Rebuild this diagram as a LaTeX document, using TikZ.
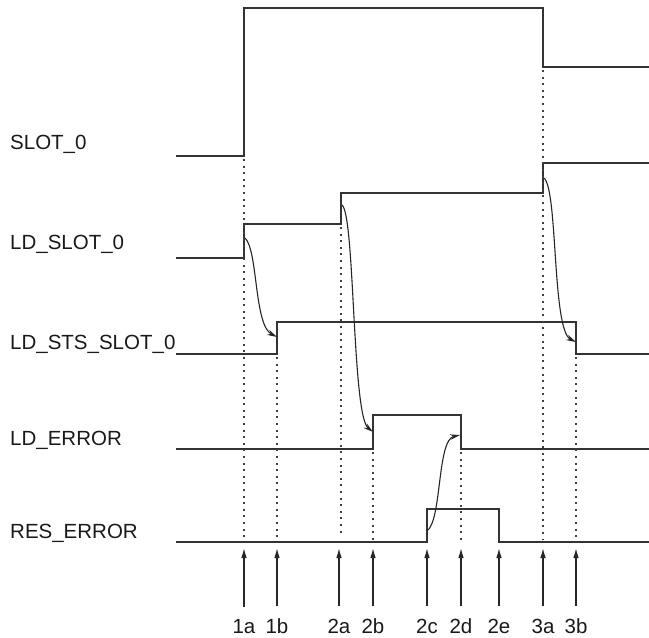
\documentclass[tikz,border=0pt]{standalone}
\usepackage{fontspec}
\setmainfont{Liberation Sans}
\usetikzlibrary{arrows.meta,positioning,calc}
\tikzset{
  tim/signal/.style={draw=black!80, line width=1.5pt},
  tim/guide/.style={draw=black!75, line width=1.2pt, dash pattern=on 2pt off 4.6pt},
  tim/cause/.style={draw=black!85, line width=1.1pt, -{Stealth[length=10pt,width=5.5pt]}},
  tim/marker/.style={draw=black!85, line width=1.1pt, shorten <=12pt, -{Latex[length=10pt,width=5.5pt]}},
  tim/name/.style={font=\fontsize{20.5}{24}\selectfont, text=black!90, anchor=base west, inner sep=0pt},
  tim/tick/.style={font=\fontsize{20.5}{24}\selectfont, text=black!90, anchor=base, inner sep=0pt}
}

\begin{document}
\begin{tikzpicture}[x=1pt, y=-1pt]
  \useasboundingbox (0,0) rectangle (649,638);

  % signal names
  \node[tim/name] (slotName) at (10,149) {SLOT\_0};
  \node[tim/name] (ldSlotName) at (10,249) {LD\_SLOT\_0};
  \node[tim/name] (ldStsName) at (10,349) {LD\_STS\_SLOT\_0};
  \node[tim/name] (ldErrName) at (10,445) {LD\_ERROR};
  \node[tim/name] (resErrName) at (10,538) {RES\_ERROR};

  % waveforms
  \draw[tim/signal] (176,156) -| (244,8) -| (543,67) -- (649,67);
  \draw[tim/signal] (176,258) -| (244,224) -| (341,193) -| (543,163) -- (649,163);
  \draw[tim/signal] (176,354) -| (277,322) -| (576,354) -- (649,354);
  \draw[tim/signal] (176,449) -| (373,415) -| (461,449) -- (649,449);
  \draw[tim/signal] (176,542) -| (427,509) -| (499,542) -- (649,542);

  % dotted guides
  \draw[tim/guide] (244,159) -- (244,540);
  \draw[tim/guide] (277,357) -- (277,540);
  \draw[tim/guide] (341,227) -- (341,536);
  \draw[tim/guide] (373,452) -- (373,540);
  \draw[tim/guide] (461,452) -- (461,540);
  \draw[tim/guide] (543,70) -- (543,540);
  \draw[tim/guide] (576,357) -- (576,540);

  % cause and effect
  \coordinate (ld1a) at (245,238);
  \coordinate (sts1b) at (277,337);
  \coordinate (ld2a) at (342,205);
  \coordinate (err2b) at (373,432);
  \coordinate (ld3a) at (544,178);
  \coordinate (sts3b) at (576,342);
  \coordinate (res2c) at (427,531);
  \coordinate (err2d) at (460,435);
  \draw[tim/cause] (ld1a) .. controls (258,250) and (254,325) .. (sts1b);
  \draw[tim/cause] (ld2a) .. controls (355,215) and (352,415) .. (err2b);
  \draw[tim/cause] (ld3a) .. controls (558,190) and (552,330) .. (sts3b);
  \draw[tim/cause] (res2c) .. controls (442,520) and (437,440) .. (err2d);

  % time markers
  \coordinate (t1a) at (244,548);
  \coordinate (t1b) at (277,548);
  \coordinate (t2a) at (339,548);
  \coordinate (t2b) at (373,548);
  \coordinate (t2c) at (427,548);
  \coordinate (t2d) at (461,548);
  \coordinate (t2e) at (499,548);
  \coordinate (t3a) at (543,548);
  \coordinate (t3b) at (576,548);
  \node[tim/tick] (l1a) at (244,633) {1a};
  \node[tim/tick] (l1b) at (277,633) {1b};
  \node[tim/tick] (l2a) at (339,633) {2a};
  \node[tim/tick] (l2b) at (373,633) {2b};
  \node[tim/tick] (l2c) at (427,633) {2c};
  \node[tim/tick] (l2d) at (461,633) {2d};
  \node[tim/tick] (l2e) at (499,633) {2e};
  \node[tim/tick] (l3a) at (543,633) {3a};
  \node[tim/tick] (l3b) at (576,633) {3b};
  \draw[tim/marker] (l1a.north) -- (t1a);
  \draw[tim/marker] (l1b.north) -- (t1b);
  \draw[tim/marker] (l2a.north) -- (t2a);
  \draw[tim/marker] (l2b.north) -- (t2b);
  \draw[tim/marker] (l2c.north) -- (t2c);
  \draw[tim/marker] (l2d.north) -- (t2d);
  \draw[tim/marker] (l2e.north) -- (t2e);
  \draw[tim/marker] (l3a.north) -- (t3a);
  \draw[tim/marker] (l3b.north) -- (t3b);
\end{tikzpicture}
\end{document}
